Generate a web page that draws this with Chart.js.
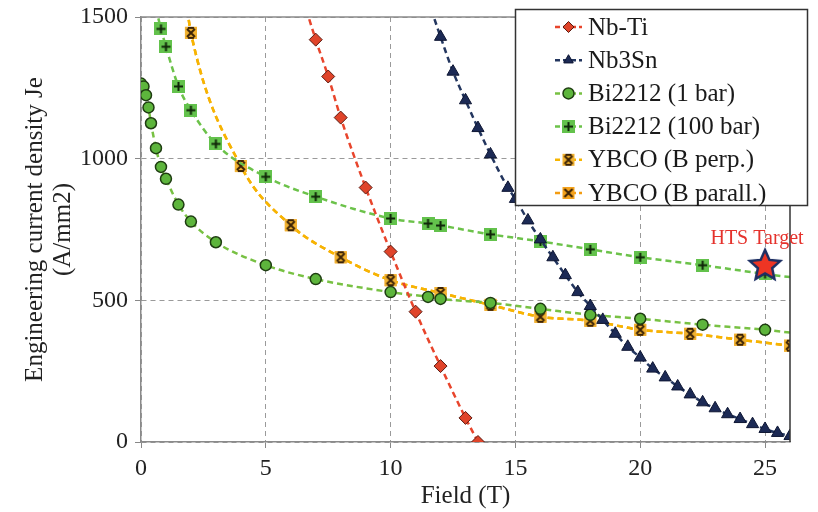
<!DOCTYPE html>
<html>
<head>
<meta charset="utf-8">
<script src="https://cdn.jsdelivr.net/npm/chart.js@4.4.0/dist/chart.umd.min.js"></script>
<style>
  body { margin: 0; background: #fff; }
  #wrap { width: 818px; height: 512px; }
</style>
</head>
<body>
<div id="wrap"><canvas id="jeChart"></canvas></div>
<script>
// Field (T) vs engineering current density Je (A/mm2)
const nbtiField = [6.5, 7, 7.5, 8, 9, 10, 11, 12, 13, 13.5];
const nbtiJe    = [1560, 1420, 1290, 1145, 898, 672, 460, 268, 85, 0];

const nb3snField = [11.5, 12, 12.5, 13, 13.5, 14, 14.7, 15, 15.5, 16, 16.5, 17, 17.5, 18, 18.5, 19, 19.5, 20, 20.5, 21, 21.5, 22, 22.5, 23, 23.5, 24, 24.5, 25, 25.5, 26];
const nb3snJe    = [1560, 1430, 1307, 1206, 1108, 1015, 897, 858, 782, 715, 652, 589, 529, 480, 431, 382, 336, 298, 259, 228, 196, 168, 140, 119, 98, 81, 63, 46, 32, 21];

const bi1Field = [0, 0.1, 0.2, 0.3, 0.4, 0.6, 0.8, 1, 1.5, 2, 3, 5, 7, 10, 11.5, 12, 14, 16, 18, 20, 22.5, 25, 26];
const bi1Je    = [1265, 1255, 1224, 1181, 1125, 1037, 971, 929, 838, 778, 705, 624, 575, 529, 512, 505, 491, 470, 449, 435, 414, 396, 386];

const bi100Field = [0.6, 0.8, 1, 1.5, 2, 3, 5, 7, 10, 11.5, 12, 14, 16, 18, 20, 22.5, 25, 26];
const bi100Je    = [1530, 1458, 1395, 1255, 1171, 1052, 936, 866, 789, 771, 764, 733, 708, 680, 652, 624, 593, 582];

const ybcoPerpField = [1.8, 2, 4, 6, 8, 10, 12, 14, 16, 18, 20, 22, 24, 26];
const ybcoPerpJe    = [1560, 1444, 974, 765, 652, 571, 526, 484, 442, 428, 396, 382, 361, 340];

const ybcoParField = [1.8, 2, 4, 6, 8, 10, 12, 14, 16, 18, 20, 22, 24, 26];
const ybcoParJe    = [1560, 1444, 974, 765, 652, 571, 526, 484, 442, 428, 396, 382, 361, 340];

const targetField = [25];
const targetJe = [625];

const xTicks = [0, 5, 10, 15, 20, 25];
const yTicks = [0, 500, 1000, 1500];

function pts(xs, ys) {
  return xs.map((x, i) => ({ x: x, y: ys[i] }));
}

function makeMarker(size, paint) {
  const c = document.createElement('canvas');
  c.width = size;
  c.height = size;
  paint(c.getContext('2d'), size);
  return c;
}

const plusSquare = makeMarker(13, (g, s) => {
  g.fillStyle = '#63c24c';
  g.fillRect(0, 0, s, s);
  g.strokeStyle = '#0f2408';
  g.lineWidth = 2;
  g.beginPath();
  g.moveTo(s / 2, 2); g.lineTo(s / 2, s - 2);
  g.moveTo(2, s / 2); g.lineTo(s - 2, s / 2);
  g.stroke();
});

const perpMark = makeMarker(14, (g, s) => {
  g.fillStyle = '#f2b230';
  g.fillRect(1, 1, s - 2, s - 2);
  g.strokeStyle = '#3a2206';
  g.lineWidth = 2;
  g.beginPath();
  g.moveTo(3, 3); g.lineTo(s - 3, s - 3);
  g.moveTo(s - 3, 3); g.lineTo(3, s - 3);
  g.moveTo(4, 2); g.lineTo(s - 4, 2);
  g.moveTo(4, s - 2); g.lineTo(s - 4, s - 2);
  g.stroke();
});

const parMark = makeMarker(14, (g, s) => {
  g.fillStyle = '#f4a21c';
  g.fillRect(1, 1, s - 2, s - 2);
  g.strokeStyle = '#3a2206';
  g.lineWidth = 2;
  g.beginPath();
  g.moveTo(3, 3); g.lineTo(s - 3, s - 3);
  g.moveTo(s - 3, 3); g.lineTo(3, s - 3);
  g.stroke();
});

const starMark = makeMarker(38, (g, s) => {
  const cx = s / 2, cy = s / 2 + 1, ro = 16, ri = 7.5;
  g.beginPath();
  for (let i = 0; i < 10; i++) {
    const r = i % 2 ? ri : ro;
    const a = -Math.PI / 2 + i * Math.PI / 5;
    g.lineTo(cx + r * Math.cos(a), cy + r * Math.sin(a));
  }
  g.closePath();
  g.fillStyle = '#ee3524';
  g.fill();
  g.strokeStyle = '#1d2f63';
  g.lineWidth = 2.5;
  g.stroke();
});

const dash = [6, 4];
const noEndMark = r => ctx => (ctx.raw && ctx.raw.x >= 26 ? 0 : r);

const series = [
  { label: 'Nb-Ti', data: pts(nbtiField, nbtiJe), borderColor: '#e8452c',
    pointStyle: 'rectRot', pointRadius: 6.5, pointBackgroundColor: '#e0442a', pointBorderColor: '#5a1a10' },
  { label: 'Nb3Sn', data: pts(nb3snField, nb3snJe), borderColor: '#23365f',
    pointStyle: 'triangle', pointRadius: 7, pointBackgroundColor: '#1c2a55', pointBorderColor: '#0e1633' },
  { label: 'Bi2212 (1 bar)', data: pts(bi1Field, bi1Je), borderColor: '#78c143',
    pointStyle: 'circle', pointRadius: noEndMark(5.5), pointBackgroundColor: '#5db53c', pointBorderColor: '#1f3d12', pointBorderWidth: 1.5 },
  { label: 'Bi2212 (100 bar)', data: pts(bi100Field, bi100Je), borderColor: '#6cc24a',
    pointStyle: plusSquare, pointRadius: noEndMark(6) },
  { label: 'YBCO (B perp.)', data: pts(ybcoPerpField, ybcoPerpJe), borderColor: '#f7b500',
    pointStyle: perpMark, pointRadius: 6 },
  { label: 'YBCO (B parall.)', data: pts(ybcoParField, ybcoParJe), borderColor: '#f39c12',
    pointStyle: parMark, pointRadius: 6 }
];

const datasets = series.map(s => Object.assign({
  showLine: true,
  borderWidth: 2.5,
  borderDash: dash,
  cubicInterpolationMode: 'monotone',
  pointBorderWidth: 1,
  fill: false
}, s));

datasets.push({
  label: 'HTS Target',
  data: pts(targetField, targetJe),
  showLine: false,
  pointStyle: starMark,
  pointRadius: 16,
  order: -1
});

const serif = '"Liberation Serif", "DejaVu Serif", serif';

const extras = {
  id: 'extras',
  afterDatasetsDraw(chart) {
    const { ctx, chartArea, scales } = chart;
    ctx.save();
    // top and right frame
    ctx.strokeStyle = '#8a8a8a';
    ctx.lineWidth = 1.5;
    ctx.beginPath();
    ctx.moveTo(chartArea.left, chartArea.top);
    ctx.lineTo(chartArea.right, chartArea.top);
    ctx.stroke();
    ctx.strokeStyle = '#333';
    ctx.lineWidth = 1.5;
    ctx.beginPath();
    ctx.moveTo(chartArea.right, chartArea.top);
    ctx.lineTo(chartArea.right, chartArea.bottom);
    ctx.stroke();

    // target label
    const tx = scales.x.getPixelForValue(targetField[0]);
    const ty = scales.y.getPixelForValue(targetJe[0]);
    ctx.fillStyle = '#e5322c';
    ctx.font = '20px ' + serif;
    ctx.textAlign = 'center';
    ctx.textBaseline = 'middle';
    ctx.fillText('HTS Target', tx - 8, ty - 26);

    // legend box
    const bx = 515.5, by = 9.5, bw = 292, bh = 196;
    ctx.fillStyle = '#fff';
    ctx.fillRect(bx, by, bw, bh);
    ctx.strokeStyle = '#333';
    ctx.lineWidth = 1.5;
    ctx.strokeRect(bx, by, bw, bh);
    ctx.font = '25px ' + serif;
    ctx.textAlign = 'left';
    series.forEach((s, i) => {
      const y = 27 + i * 33.2;
      ctx.strokeStyle = s.borderColor;
      ctx.lineWidth = 2.5;
      ctx.setLineDash([5, 3]);
      ctx.beginPath();
      ctx.moveTo(555, y);
      ctx.lineTo(582, y);
      ctx.stroke();
      ctx.setLineDash([]);
      ctx.fillStyle = s.pointBackgroundColor || '#000';
      ctx.strokeStyle = s.pointBorderColor || '#000';
      ctx.lineWidth = s.pointBorderWidth || 1;
      Chart.helpers.drawPoint(ctx, { pointStyle: s.pointStyle, radius: 5.5, rotation: 0, borderWidth: 1 }, 568.5, y);
      ctx.fillStyle = '#1a1a1a';
      ctx.fillText(s.label, 588, y + 1);
    });
    ctx.restore();
  }
};

new Chart(document.getElementById('jeChart'), {
  type: 'scatter',
  data: { datasets: datasets },
  options: {
    responsive: true,
    maintainAspectRatio: false,
    animation: false,
    layout: { padding: { left: 0, right: 28, top: 12, bottom: 0 } },
    plugins: {
      legend: { display: false },
      tooltip: { enabled: false }
    },
    scales: {
      x: {
        type: 'linear',
        min: 0,
        max: 26,
        afterBuildTicks: s => { s.ticks = xTicks.map(v => ({ value: v })); },
        afterFit: s => { s.height = 70; s.paddingLeft = 0; s.paddingRight = 0; },
        grid: { color: '#9a9a9a', lineWidth: 1, tickLength: 6, tickColor: '#888', tickWidth: 1 },
        border: { display: true, color: '#8a8a8a', width: 1.5, dash: [5, 4] },
        ticks: { color: '#222', padding: 6, maxRotation: 0, font: { family: serif, size: 24 } },
        title: { display: true, text: 'Field (T)', color: '#222', padding: { top: 0, bottom: 1 },
          font: { family: serif, size: 25 } }
      },
      y: {
        type: 'linear',
        min: 0,
        max: 1500,
        afterBuildTicks: s => { s.ticks = yTicks.map(v => ({ value: v })); },
        afterFit: s => { s.width = 141; s.paddingTop = 0; s.paddingBottom = 0; },
        grid: { color: '#9a9a9a', lineWidth: 1, tickLength: 6, tickColor: '#888', tickWidth: 1 },
        border: { display: true, color: '#8a8a8a', width: 1.5, dash: [5, 4] },
        ticks: { color: '#222', padding: 7, font: { family: serif, size: 24 }, callback: v => String(v) },
        title: { display: true, text: ['Engineering current density Je', '(A/mm2)'], color: '#222',
          padding: { top: 22, bottom: 0 }, font: { family: serif, size: 25, lineHeight: 1.1 } }
      }
    }
  },
  plugins: [extras]
});
</script>
</body>
</html>
